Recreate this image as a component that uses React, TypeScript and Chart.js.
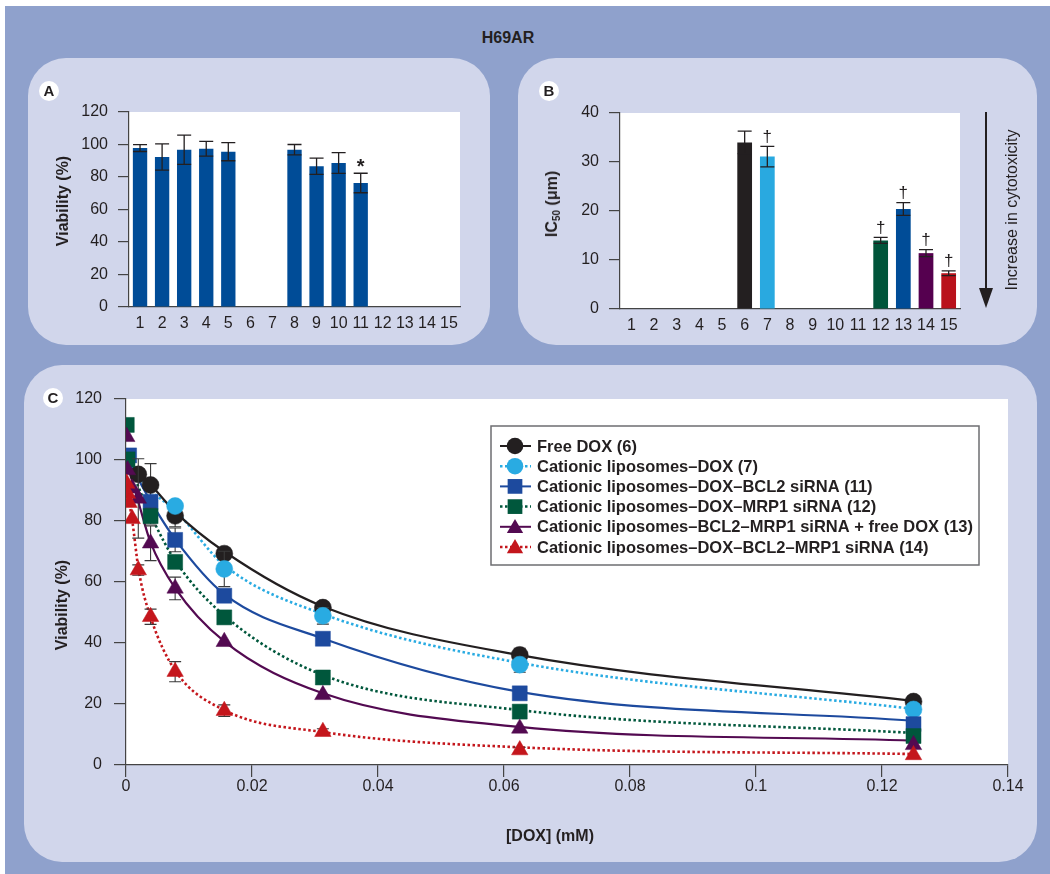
import React, { useEffect, useRef } from 'react';
import { Chart, registerables } from 'chart.js';

Chart.register(...registerables);

const FONT = '"Liberation Sans", Arial, Helvetica, sans-serif';
const INK = '#231f20';
const AXIS = '#444444';

// ---------- Panel A: viability of blank formulations ----------
const groupLabels = ['1', '2', '3', '4', '5', '6', '7', '8', '9', '10', '11', '12', '13', '14', '15'];
const viabilityA = [97.8, 92.3, 96.8, 97.4, 95.6, null, null, 96.8, 86.6, 88.6, 76.3, null, null, null, null];
const viabilityAErr = [2.1, 8.1, 9.0, 4.5, 5.6, 0, 0, 3.2, 5.0, 6.4, 6.0, 0, 0, 0, 0];
const viabilityAMarks = ['', '', '', '', '', '', '', '', '', '', '*', '', '', '', ''];

// ---------- Panel B: IC50 ----------
const ic50 = [null, null, null, null, null, 34.0, 31.1, null, null, null, null, 14.0, 20.4, 11.4, 7.3];
const ic50Err = [0, 0, 0, 0, 0, 2.3, 2.1, 0, 0, 0, 0, 0.6, 1.3, 0.7, 0.5];
const ic50Marks = ['', '', '', '', '', '', '†', '', '', '', '', '†', '†', '†', '†'];
const ic50Colors = ['#004c97', '#004c97', '#004c97', '#004c97', '#004c97', '#231f20', '#29a9e0', '#004c97', '#004c97', '#004c97', '#004c97', '#00553a', '#004c97', '#55004f', '#b9121b'];

// ---------- Panel C: dose-response ----------
const doxConc = [0.00012, 0.00024, 0.00049, 0.00098, 0.00195, 0.0039, 0.0078, 0.0156, 0.03125, 0.0625, 0.125];
const freeDox = [null, null, null, null, 95.3, 91.8, 81.7, 69.3, 51.6, 36.1, 20.8];
const freeDoxErr = [0, 0, 0, 0, 0, 7, 3.6, 0, 0, 2.2, 0];
const liposomesDox = [null, null, null, null, null, null, 84.9, 64.3, 48.9, 32.9, 18.2];
const liposomesDoxErr = [0, 0, 0, 0, 0, 0, 0, 5.8, 2.7, 2.5, 0];
const doxBcl2 = [null, null, 101.5, null, null, 86.3, 73.8, 55.5, 41.4, 23.5, 13.4];
const doxBcl2Err = [0, 0, 0, 0, 0, 0, 3.9, 0, 0, 0, 0];
const doxMrp1 = [111.5, 100.2, null, null, null, 81.6, 66.6, 48.4, 28.7, 17.5, 9.5];
const doxMrp1Err = [0, 0, 0, 0, 0, 2.6, 0, 0, 0, 0, 0];
const bcl2Mrp1FreeDox = [107.6, 96.7, null, 90.7, 87.4, 72.7, 57.9, 40.4, 23.0, 12.0, 6.6];
const bcl2Mrp1FreeDoxErr = [0, 0, 0, 0, 13, 5.7, 3.7, 0, 0, 0, 0];
const doxBcl2Mrp1 = [92.3, 89.0, 86.0, 80.7, 63.9, 48.6, 30.6, 17.8, 10.9, 4.9, 3.3];
const doxBcl2Mrp1Err = [0, 0, 0, 0, 1.7, 2.5, 3.3, 1.9, 1.0, 0.9, 0];

// fitted curves
const fitConc = [0, 0.001, 0.002, 0.0039, 0.0078, 0.0156, 0.03125, 0.0625, 0.125];
const fitFreeDox = [100, 98.5, 96, 92, 83, 70, 52, 36, 21];
const fitLiposomesDox = [100, 97.5, 94.5, 90, 83.5, 65.5, 49.5, 33.5, 18.4];
const fitDoxBcl2 = [101.5, 97.5, 93.5, 86.5, 74, 56, 41.5, 24, 14.5];
const fitDoxMrp1 = [103, 96.5, 91, 82, 67, 49, 29.5, 18, 10.5];
const fitBcl2Mrp1FreeDox = [100, 93, 86, 73, 58, 40.5, 23.5, 12.5, 8];
const fitDoxBcl2Mrp1 = [92, 80, 64, 48.5, 31, 18, 10.8, 5.8, 3.6];

const seriesLabels = [
  'Free DOX (6)',
  'Cationic liposomes–DOX (7)',
  'Cationic liposomes–DOX–BCL2 siRNA (11)',
  'Cationic liposomes–DOX–MRP1 siRNA (12)',
  'Cationic liposomes–BCL2–MRP1 siRNA + free DOX (13)',
  'Cationic liposomes–DOX–BCL2–MRP1 siRNA (14)',
];
const seriesValues = [freeDox, liposomesDox, doxBcl2, doxMrp1, bcl2Mrp1FreeDox, doxBcl2Mrp1];
const seriesErrors = [freeDoxErr, liposomesDoxErr, doxBcl2Err, doxMrp1Err, bcl2Mrp1FreeDoxErr, doxBcl2Mrp1Err];
const seriesFits = [fitFreeDox, fitLiposomesDox, fitDoxBcl2, fitDoxMrp1, fitBcl2Mrp1FreeDox, fitDoxBcl2Mrp1];
const seriesColors = ['#231f20', '#29abe2', '#1d4a9e', '#00573c', '#530a51', '#c4161c'];
const seriesMarkers = ['circle', 'circle', 'rect', 'rect', 'triangle', 'triangle'];
const seriesDotted = [false, true, false, true, false, true];

// ---------- plugins ----------
function drawErrors(chart: any, index: number, o: any) {
  const ds = chart.data.datasets[index];
  const errs = ds.errors as number[] | undefined;
  const marks = ds.marks as string[] | undefined;
  if (!errs && !marks) return;
  const meta = chart.getDatasetMeta(index);
  const ys = chart.scales[meta.yAxisID];
  const ctx = chart.ctx as CanvasRenderingContext2D;
  ctx.save();
  ctx.strokeStyle = o.color;
  ctx.lineWidth = o.width;
  meta.data.forEach((el: any, i: number) => {
    const raw = ds.data[i];
    const v = raw == null ? null : typeof raw === 'number' ? raw : raw.y;
    if (v == null) return;
    const e = errs ? errs[i] || 0 : 0;
    const x = el.x;
    const top = ys.getPixelForValue(v + e);
    const bot = ys.getPixelForValue(v - e);
    if (e > 0) {
      const c = o.cap / 2;
      ctx.beginPath();
      ctx.moveTo(x, top); ctx.lineTo(x, bot);
      ctx.moveTo(x - c, top); ctx.lineTo(x + c, top);
      ctx.moveTo(x - c, bot); ctx.lineTo(x + c, bot);
      ctx.stroke();
    }
    const m = marks ? marks[i] : '';
    if (m) {
      ctx.fillStyle = o.color;
      ctx.font = o.markFont;
      ctx.textAlign = 'center';
      ctx.textBaseline = 'bottom';
      ctx.fillText(m, x, top - o.markGap);
    }
  });
  ctx.restore();
}

const errorBarPlugin = {
  id: 'errorBars',
  beforeDatasetDraw(chart: any, args: any, opts: any) { if (opts.behind) drawErrors(chart, args.index, opts); },
  afterDatasetDraw(chart: any, args: any, opts: any) { if (!opts.behind) drawErrors(chart, args.index, opts); },
};

const plotBgPlugin = {
  id: 'plotBg',
  beforeDraw(chart: any) {
    const { ctx, chartArea: a } = chart;
    ctx.save();
    ctx.fillStyle = '#ffffff';
    ctx.fillRect(a.left, a.top, a.right - a.left, a.bottom - a.top);
    ctx.restore();
  },
};

function drawMarker(ctx: CanvasRenderingContext2D, style: string, x: number, y: number, r: number) {
  ctx.beginPath();
  if (style === 'circle') {
    ctx.arc(x, y, r, 0, Math.PI * 2);
  } else if (style === 'rect') {
    const s = r * Math.SQRT1_2;
    ctx.rect(x - s, y - s, 2 * s, 2 * s);
  } else {
    for (let k = 0; k < 3; k++) {
      const a = (k * 2 * Math.PI) / 3;
      const px = x + Math.sin(a) * r;
      const py = y - Math.cos(a) * r;
      if (k === 0) ctx.moveTo(px, py); else ctx.lineTo(px, py);
    }
    ctx.closePath();
  }
  ctx.fill();
}

const boxLegendPlugin = {
  id: 'boxLegend',
  afterDraw(chart: any, _args: any, o: any) {
    const ctx = chart.ctx as CanvasRenderingContext2D;
    ctx.save();
    ctx.fillStyle = '#ffffff';
    ctx.fillRect(o.x, o.y, o.w, o.h);
    ctx.strokeStyle = '#6d6e71';
    ctx.lineWidth = 1.5;
    ctx.strokeRect(o.x, o.y, o.w, o.h);
    seriesLabels.forEach((label, i) => {
      const ry = o.rowY + i * o.rowGap;
      ctx.strokeStyle = seriesColors[i];
      ctx.lineWidth = seriesDotted[i] ? 2.5 : 2;
      ctx.setLineDash(seriesDotted[i] ? [2.5, 2.5] : []);
      ctx.beginPath();
      ctx.moveTo(o.lineX0, ry);
      ctx.lineTo(o.lineX1, ry);
      ctx.stroke();
      ctx.setLineDash([]);
      ctx.fillStyle = seriesColors[i];
      const r = seriesMarkers[i] === 'rect' ? 10.4 : seriesMarkers[i] === 'triangle' ? 9.4 : 8.3;
      drawMarker(ctx, seriesMarkers[i], o.markX, ry + (seriesMarkers[i] === 'triangle' ? 1.5 : 0), r);
      ctx.fillStyle = INK;
      ctx.font = 'bold 16.5px ' + FONT;
      ctx.textAlign = 'left';
      ctx.textBaseline = 'middle';
      ctx.fillText(label, o.textX, ry + 1);
    });
    ctx.restore();
  },
};

// ---------- configs ----------
function barConfig(values: (number | null)[], errors: number[], marks: string[], colors: string | string[], yMax: number, yStep: number, pad: any, yWidth: number, xHeight: number, markFont: string, markGap: number): any {
  return {
    type: 'bar',
    data: {
      labels: groupLabels,
      datasets: [{
        data: values,
        backgroundColor: colors,
        borderWidth: 0,
        barPercentage: 0.65,
        categoryPercentage: 1,
        errors,
        marks,
      }],
    },
    options: {
      responsive: false,
      animation: false,
      devicePixelRatio: 1,
      layout: { padding: pad },
      plugins: {
        legend: { display: false },
        tooltip: { enabled: false },
        errorBars: { behind: false, color: INK, width: 1.3, cap: 14, markFont, markGap },
      },
      scales: {
        x: {
          grid: { display: false, drawTicks: false },
          border: { display: true, color: AXIS, width: 1.2 },
          ticks: { padding: 7, font: { size: 16 }, color: INK, maxRotation: 0, autoSkip: false },
          afterFit: (s: any) => { s.height = xHeight; },
        },
        y: {
          min: 0,
          max: yMax,
          ticks: { stepSize: yStep, padding: 10, font: { size: 16 }, color: INK },
          grid: { drawOnChartArea: false, tickLength: 11, color: AXIS, lineWidth: 1.2 },
          border: { color: AXIS, width: 1.2 },
          afterFit: (s: any) => { s.width = yWidth; },
        },
      },
    },
    plugins: [plotBgPlugin, errorBarPlugin],
  };
}

function curveConfig(): any {
  const fitSets = seriesFits.map((fit, i) => ({
    label: seriesLabels[i] + ' fit',
    data: fitConc.map((x, k) => ({ x, y: fit[k] })),
    borderColor: seriesColors[i],
    borderWidth: seriesDotted[i] ? 2.6 : 2.2,
    borderDash: seriesDotted[i] ? [2.5, 2.5] : [],
    pointRadius: 0,
    cubicInterpolationMode: 'monotone',
    fill: false,
    order: 20,
  }));
  const pointSets = seriesValues.map((vals, i) => ({
    label: seriesLabels[i],
    data: doxConc.map((x, k) => ({ x, y: vals[k] })),
    showLine: false,
    pointStyle: seriesMarkers[i],
    pointRadius: seriesMarkers[i] === 'rect' ? 10.6 : seriesMarkers[i] === 'triangle' ? 9.5 : 8.5,
    pointBackgroundColor: seriesColors[i],
    pointBorderColor: seriesColors[i],
    pointBorderWidth: 0.5,
    errors: seriesErrors[i],
    order: 6 - i,
  }));
  return {
    type: 'line',
    data: { datasets: [...fitSets, ...pointSets] },
    options: {
      responsive: false,
      animation: false,
      devicePixelRatio: 1,
      layout: { padding: { left: 0, top: 34, right: 29, bottom: 0 } },
      plugins: {
        legend: { display: false },
        tooltip: { enabled: false },
        errorBars: { behind: true, color: '#3a3a3a', width: 1.1, cap: 12, markFont: '16px ' + FONT, markGap: 2 },
        boxLegend: { x: 467, y: 61, w: 488, h: 139, rowY: 81, rowGap: 20.2, lineX0: 476, lineX1: 507, markX: 491, textX: 513 },
      },
      scales: {
        x: {
          type: 'linear',
          min: 0,
          max: 0.14,
          ticks: { stepSize: 0.02, padding: 0, font: { size: 16 }, color: INK, callback: (v: any) => String(Math.round(Number(v) * 1000) / 1000) },
          grid: { drawOnChartArea: false, tickLength: 12, color: AXIS, lineWidth: 1.2 },
          border: { color: AXIS, width: 1.2 },
          afterFit: (s: any) => { s.height = 97; },
        },
        y: {
          min: 0,
          max: 120,
          ticks: { stepSize: 20, padding: 12, font: { size: 16 }, color: INK },
          grid: { drawOnChartArea: false, tickLength: 12, color: AXIS, lineWidth: 1.2 },
          border: { color: AXIS, width: 1.2 },
          afterFit: (s: any) => { s.width = 102; },
        },
      },
    },
    plugins: [plotBgPlugin, errorBarPlugin, boxLegendPlugin],
  };
}

// ---------- layout helpers ----------
const abs = (l: number, t: number, w: number, h: number): React.CSSProperties => ({ position: 'absolute', left: l, top: t, width: w, height: h });

function Badge({ x, y, letter }: { x: number; y: number; letter: string }) {
  return (
    <div style={{ position: 'absolute', left: x - 10, top: y - 10, width: 20, height: 20, borderRadius: 10, background: '#fff', color: INK, fontWeight: 'bold', fontSize: 15, lineHeight: '20px', textAlign: 'center' }}>{letter}</div>
  );
}

function Label({ x, y, rotate, bold, size, children }: { x: number; y: number; rotate?: boolean; bold?: boolean; size?: number; children: React.ReactNode }) {
  return (
    <div style={{ position: 'absolute', left: x, top: y, transform: `translate(-50%, -50%)${rotate ? ' rotate(-90deg)' : ''}`, whiteSpace: 'nowrap', fontWeight: bold ? 'bold' : 'normal', fontSize: size || 16, color: INK, lineHeight: 1 }}>{children}</div>
  );
}

export default function App() {
  const aRef = useRef<HTMLCanvasElement>(null);
  const bRef = useRef<HTMLCanvasElement>(null);
  const cRef = useRef<HTMLCanvasElement>(null);

  useEffect(() => {
    Chart.defaults.font.family = FONT;
    Chart.defaults.color = INK;
    const charts = [
      new Chart(aRef.current!, barConfig(viabilityA, viabilityAErr, viabilityAMarks, '#004c97', 120, 20, { left: 0, top: 54, right: 30, bottom: 0 }, 101, 38, 'bold 20px ' + FONT, -4)),
      new Chart(bRef.current!, barConfig(ic50, ic50Err, ic50Marks, ic50Colors, 40, 10, { left: 0, top: 55, right: 77, bottom: 0 }, 102, 36, '17px ' + FONT, 1)),
      new Chart(cRef.current!, curveConfig()),
    ];
    return () => charts.forEach((c) => c.destroy());
  }, []);

  const panel = '#d1d6eb';
  return (
    <div style={{ position: 'absolute', left: 0, top: 0, width: 1050, height: 874, background: '#ffffff', overflow: 'hidden', fontFamily: FONT }}>
      <div style={{ ...abs(5, 6, 1045, 868), background: '#8fa1cc' }} />
      <Label x={508} y={38} bold>H69AR</Label>

      <div style={{ ...abs(28, 58, 462, 287), background: panel, borderRadius: 38 }} />
      <div style={{ ...abs(518, 58, 519, 287), background: panel, borderRadius: 38 }} />
      <div style={{ ...abs(24, 365, 1013, 497), background: panel, borderRadius: 38 }} />

      <canvas ref={aRef} width={462} height={287} style={{ ...abs(28, 58, 462, 287) }} />
      <canvas ref={bRef} width={519} height={287} style={{ ...abs(518, 58, 519, 287) }} />
      <canvas ref={cRef} width={1013} height={497} style={{ ...abs(24, 365, 1013, 497) }} />

      <Badge x={49} y={91} letter="A" />
      <Badge x={549} y={91} letter="B" />
      <Badge x={53} y={398} letter="C" />

      <Label x={63} y={201} rotate bold>Viability (%)</Label>
      <Label x={552} y={204} rotate bold>IC<span style={{ fontSize: 10, position: 'relative', top: 3 }}>50</span> (μm)</Label>
      <Label x={1012} y={210} rotate>Increase in cytotoxicity</Label>
      <svg style={{ ...abs(970, 100, 30, 220) }} width={30} height={220}>
        <line x1={16} y1={12} x2={16} y2={192} stroke={INK} strokeWidth={2} />
        <polygon points="9,188 23,188 16,208" fill={INK} />
      </svg>

      <Label x={62} y={605} rotate bold>Viability (%)</Label>
      <Label x={550} y={836} bold>[DOX] (mM)</Label>
    </div>
  );
}
